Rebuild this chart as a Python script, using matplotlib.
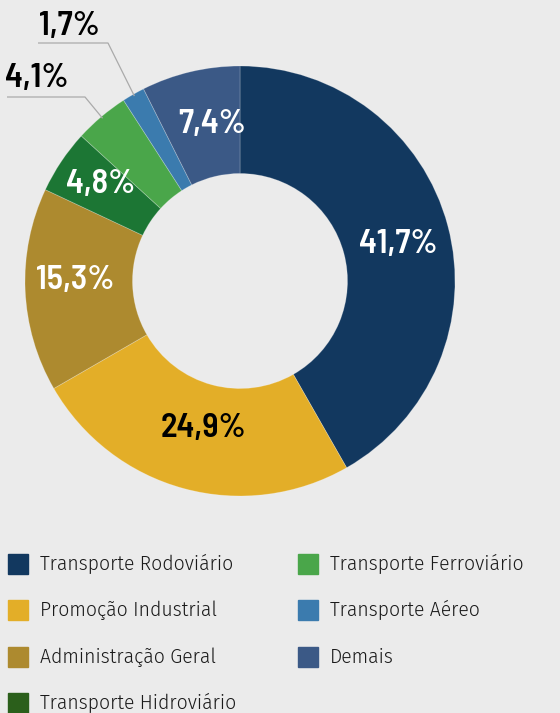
import numpy as np
import matplotlib.pyplot as plt
from matplotlib.patches import Rectangle

categorias = ['Transporte Rodoviário', 'Promoção Industrial', 'Administração Geral',
              'Transporte Hidroviário', 'Transporte Ferroviário', 'Transporte Aéreo', 'Demais']
valores = [41.7, 24.9, 15.3, 4.8, 4.1, 1.7, 7.4]
cores = ['#12385f', '#e3ae28', '#ad8a2f', '#1c7634', '#4aa64a', '#3b7bae', '#3b5986']
cores_legenda = ['#12385f', '#e3ae28', '#ad8a2f', '#2b5f1b', '#4aa64a', '#3b7bae', '#3b5986']
rotulos = ['41,7%', '24,9%', '15,3%', '4,8%', '4,1%', '1,7%', '7,4%']

W, H = 560, 713
BG = '#ebebeb'

fig = plt.figure(figsize=(W / 100, H / 100), dpi=100, facecolor=BG)
ax = fig.add_axes([0, 0, 1, 1])
ax.set_facecolor(BG)

cx, cy, R = 240, H - 281, 215
wedges, _ = ax.pie(valores, colors=cores, startangle=90, counterclock=False,
                   center=(cx, cy), radius=R,
                   wedgeprops=dict(width=R * 0.5, edgecolor=(1, 1, 1, 0.25), linewidth=0.6))
ax.set_xlim(0, W)
ax.set_ylim(0, H)
ax.axis('off')

lbl_font = dict(family=['Barlow Semi Condensed', 'Barlow Condensed', 'DejaVu Sans'],
                weight=600, fontsize=24.5, ha='center', va='center')

# rótulos dentro das fatias (posição em pixels a partir do topo)
dentro = {0: ((398, 244), 'white'), 1: ((203, 428), 'black'), 2: ((75, 280), 'white'),
          3: ((101, 185), 'white'), 6: ((212, 125), 'white')}
for i, ((x, y), c) in dentro.items():
    ax.text(x, H - y, rotulos[i], color=c, **lbl_font)

# rótulos externos com linha de chamada
fora = {4: ((37, 78), 7, 85, 97), 5: ((69, 27), 38, 108, 43)}
frac = np.cumsum([0] + valores) / sum(valores)
for i, ((x, y), x0, x1, yl) in fora.items():
    ang = np.deg2rad(90 - 360 * (frac[i] + frac[i + 1]) / 2)
    px, py = cx + (R - 2) * np.cos(ang), cy + (R - 2) * np.sin(ang)
    ax.plot([x0, x1, px], [H - yl, H - yl, py], color='#aaaaaa', lw=0.9,
            solid_capstyle='butt')
    ax.text(x, H - y, rotulos[i], color='black', **lbl_font)

# legenda em duas colunas
linhas = [564, 610, 657, 703]
for i, (nome, c) in enumerate(zip(categorias, cores_legenda)):
    col, lin = divmod(i, 4)
    x_sq = 8 if col == 0 else 298
    y = H - linhas[lin]
    ax.add_patch(Rectangle((x_sq, y - 10), 20, 20, color=c, clip_on=False))
    ax.text(x_sq + 32, y, nome, family=['Fira Sans', 'DejaVu Sans'], weight=300,
            fontsize=14, color='#1a1a1a', ha='left', va='center')

fig.savefig('out.png', dpi=100, facecolor=BG)
